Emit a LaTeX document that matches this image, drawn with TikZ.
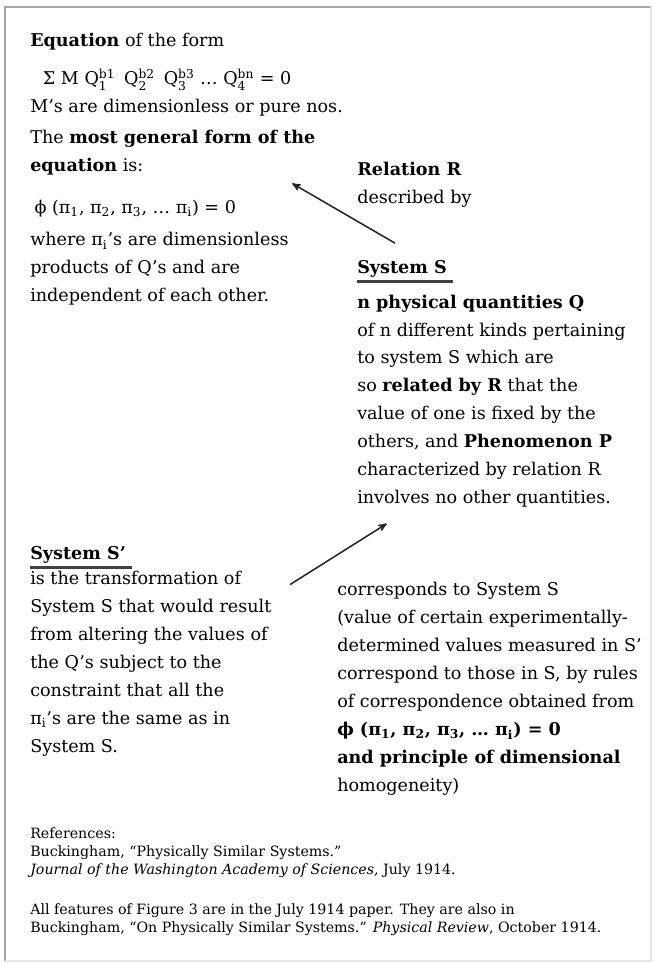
\documentclass[tikz,border=0pt]{standalone}
\usepackage{amsmath}
\usepackage{fontspec}
\setmainfont{DejaVu Serif}
\usetikzlibrary{arrows,positioning}

\newcommand{\pisub}[1]{π\textsubscript{#1}}
\newcommand{\qpow}[2]{Q$_{\text{#1}}^{\text{#2}}$}

\begin{document}
\begin{tikzpicture}[x=0.025cm,y=-0.025cm,->,>=stealth',shorten >=1pt,
  text block/.style={align=left,inner sep=0pt,anchor=north west,font=\fontsize{12.5}{19.9}\selectfont},
  ref block/.style={align=left,inner sep=0pt,anchor=north west,font=\fontsize{10.1}{12.8}\selectfont},
  under line/.style={-,line width=2.2pt,black!75,shorten >=0pt},
  frame line/.style={-,line width=1.2pt,shorten >=0pt},
  link/.style={line width=1.1pt,black!85}]

\useasboundingbox (0,0) rectangle (654,964);

%frame
\draw[frame line,gray!70] (5,961) -- (5,7) -- (651,7);
\draw[frame line,gray!20] (651,7) -- (651,961) -- (5,961);

\node[text block] (1) at (30,33) {\textbf{Equation} of the form\\[7pt]
\hspace*{9pt}Σ M \qpow{1}{b1}\enspace\qpow{2}{b2}\enspace\qpow{3}{b3} … \qpow{4}{bn} = 0\\
M’s are dimensionless or pure nos.};
\node[text block] (2) at (30,130) {The \textbf{most general form of the}\\
\textbf{equation} is:\\[10pt]
\hspace*{3pt}ϕ (\pisub{1}, \pisub{2}, \pisub{3}, … \pisub{i}) = 0\\[3pt]
where \pisub{i}’s are dimensionless\\
products of Q’s and are\\
independent of each other.};

\node[text block] (3) at (357,162) {\textbf{Relation R}\\ described by};

\node[text block] (4) at (357,260) {\textbf{System S}};
\node[text block] (5) [below=12pt of 4.south west,anchor=north west] {\textbf{n physical quantities Q}\\
of n different kinds pertaining\\
to system S which are\\
so \textbf{related by R} that the\\
value of one is fixed by the\\
others, and \textbf{Phenomenon P}\\
characterized by relation R\\
involves no other quantities.};

\node[text block] (6) at (30,546) {\textbf{System S’}};
\node[text block] (7) [below=5pt of 6.south west,anchor=north west] {is the transformation of\\
System S that would result\\
from altering the values of\\
the Q’s subject to the\\
constraint that all the\\
\pisub{i}’s are the same as in\\
System S.};

\node[text block] (8) at (337,582) {corresponds to System S\\
(value of certain experimentally-\\
determined values measured in S’\\
correspond to those in S, by rules\\
of correspondence obtained from\\
\textbf{ϕ (\pisub{1}, \pisub{2}, \pisub{3}, … \pisub{i}) = 0}\\
\textbf{and principle of dimensional}\\
homogeneity)};

\node[ref block] (9) at (30,827) {References:\\
Buckingham, “Physically Similar Systems.”\\
\textit{Journal of the Washington Academy of Sciences}, July 1914.};
\node[ref block] (10) [below=18.5pt of 9.south west,anchor=north west] {All features of Figure 3 are in the July 1914 paper. They are also in\\
Buckingham, “On Physically Similar Systems.” \textit{Physical Review}, October 1914.};

%underlines
\draw[under line] ([yshift=-3pt]4.south west) -- ([xshift=4pt,yshift=-3pt]4.south east);
\draw[under line] ([yshift=-3pt]6.south west) -- ([xshift=4pt,yshift=-3pt]6.south east);

%arrows
\path[link] ([xshift=27pt,yshift=12pt]4.north west) edge node {} ([xshift=185.6pt,yshift=-37.5pt]2.north west);
\path[link] ([xshift=184.9pt,yshift=-10pt]7.north west) edge node {} ([xshift=22pt,yshift=-10.7pt]5.south west);

\end{tikzpicture}
\end{document}
